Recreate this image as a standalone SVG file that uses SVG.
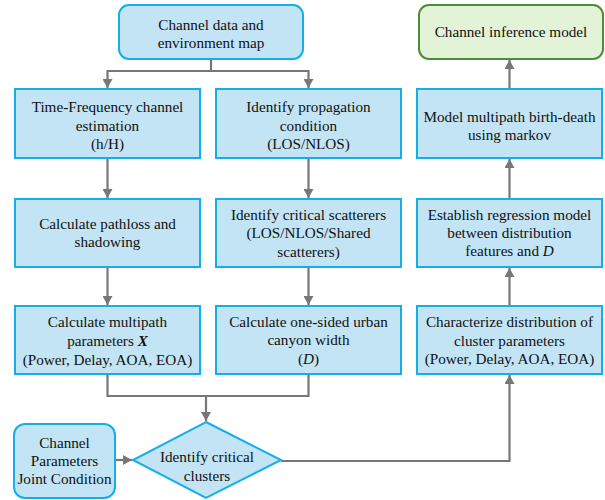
<svg xmlns="http://www.w3.org/2000/svg" width="605" height="500" viewBox="0 0 605 500">
<style>
.box{fill:#c2e4f4;stroke:#16aee9;stroke-width:2}
.green{fill:#e3f3d8;stroke:#4f8b3b;stroke-width:2}
.t{font-family:'Liberation Serif','DejaVu Serif',serif;font-size:15.2px;fill:#111;text-anchor:middle}
.c{fill:none;stroke:#777;stroke-width:2.2}
</style>
<defs>
<marker id="ah" markerUnits="userSpaceOnUse" markerWidth="10" markerHeight="10" refX="9" refY="5" orient="auto">
<path d="M0,0 L9,5 L0,10 z" fill="#777"/>
</marker>
</defs>
<rect width="605" height="500" fill="#fff"/>
<g id="connectors">
<path class="c" d="M211,59 V71 H107.5 V88" marker-end="url(#ah)"/>
<path class="c" d="M211,71 H308.5 V88" marker-end="url(#ah)"/>
<path class="c" d="M107.5,158 V198" marker-end="url(#ah)"/>
<path class="c" d="M308.5,158 V198" marker-end="url(#ah)"/>
<path class="c" d="M107.5,267 V305" marker-end="url(#ah)"/>
<path class="c" d="M308.5,267 V305" marker-end="url(#ah)"/>
<path class="c" d="M107.5,374 V396 H308.5 V374"/>
<path class="c" d="M206,396 V421" marker-end="url(#ah)"/>
<path class="c" d="M115,460 H132" marker-end="url(#ah)"/>
<path class="c" d="M281,461 H509.5 V375" marker-end="url(#ah)"/>
<path class="c" d="M509.5,306 V268" marker-end="url(#ah)"/>
<path class="c" d="M509.5,199 V159" marker-end="url(#ah)"/>
<path class="c" d="M509.5,89 V60" marker-end="url(#ah)"/>
</g>
<g id="n_start">
<rect class="box" x="119" y="5" width="184" height="54" rx="10"/>
<text class="t" x="211" y="30">Channel data and</text>
<text class="t" x="211" y="48">environment map</text>
</g>
<g id="n_tf">
<rect class="box" x="15" y="89" width="185" height="69"/>
<text class="t" x="107.5" y="112">Time-Frequency channel</text>
<text class="t" x="107.5" y="130.5">estimation</text>
<text class="t" x="107.5" y="149">(h/H)</text>
</g>
<g id="n_prop">
<rect class="box" x="216" y="89" width="185" height="69"/>
<text class="t" x="308.5" y="112">Identify propagation</text>
<text class="t" x="308.5" y="130.5">condition</text>
<text class="t" x="308.5" y="149">(LOS/NLOS)</text>
</g>
<g id="n_markov">
<rect class="box" x="417" y="89" width="185" height="69"/>
<text class="t" x="509.5" y="122">Model multipath birth-death</text>
<text class="t" x="509.5" y="140">using markov</text>
</g>
<g id="n_model">
<rect class="green" x="419" y="5" width="184" height="54" rx="10"/>
<text class="t" x="511" y="37">Channel inference model</text>
</g>
<g id="n_pathloss">
<rect class="box" x="15" y="199" width="185" height="68"/>
<text class="t" x="107.5" y="229">Calculate pathloss and</text>
<text class="t" x="107.5" y="247">shadowing</text>
</g>
<g id="n_scat">
<rect class="box" x="216" y="199" width="185" height="68"/>
<text class="t" x="308.5" y="220">Identify critical scatterers</text>
<text class="t" x="308.5" y="238">(LOS/NLOS/Shared</text>
<text class="t" x="308.5" y="256.5">scatterers)</text>
</g>
<g id="n_regr">
<rect class="box" x="417" y="199" width="185" height="68"/>
<text class="t" x="509.5" y="219.5">Establish regression model</text>
<text class="t" x="509.5" y="238">between distribution</text>
<text class="t" x="509.5" y="256">features and <tspan font-style="italic">D</tspan></text>
</g>
<g id="n_multi">
<rect class="box" x="15" y="306" width="185" height="68"/>
<text class="t" x="107.5" y="327">Calculate multipath</text>
<text class="t" x="107.5" y="346">parameters <tspan font-style="italic" font-weight="bold">X</tspan></text>
<text class="t" x="107.5" y="364.5">(Power, Delay, AOA, EOA)</text>
</g>
<g id="n_canyon">
<rect class="box" x="216" y="306" width="185" height="68"/>
<text class="t" x="308.5" y="327">Calculate one-sided urban</text>
<text class="t" x="308.5" y="345">canyon width</text>
<text class="t" x="308.5" y="363.5">(<tspan font-style="italic">D</tspan>)</text>
</g>
<g id="n_char">
<rect class="box" x="417" y="306" width="185" height="68"/>
<text class="t" x="509.5" y="327">Characterize distribution of</text>
<text class="t" x="509.5" y="345.5">cluster parameters</text>
<text class="t" x="509.5" y="364">(Power, Delay, AOA, EOA)</text>
</g>
<g id="n_joint">
<rect class="box" x="14" y="424" width="101" height="74" rx="11"/>
<text class="t" x="64.5" y="448">Channel</text>
<text class="t" x="64.5" y="466">Parameters</text>
<text class="t" x="64.5" y="484">Joint Condition</text>
</g>
<g id="n_clusters">
<polygon class="box" points="206,422 281,460 206,498 133,460"/>
<text class="t" x="207" y="462">Identify critical</text>
<text class="t" x="207" y="481">clusters</text>
</g>
</svg>
